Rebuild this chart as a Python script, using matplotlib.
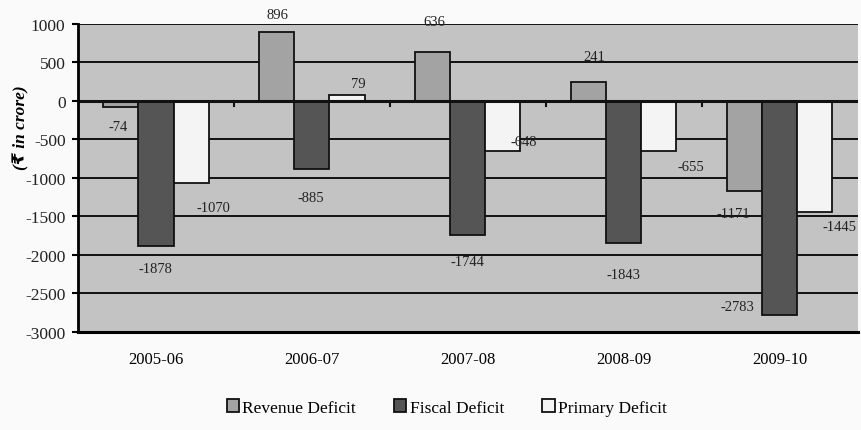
import numpy as np
import matplotlib
matplotlib.use('Agg')
import matplotlib.pyplot as plt

years = ['2005-06', '2006-07', '2007-08', '2008-09', '2009-10']
revenue = [-74, 896, 636, 241, -1171]
fiscal = [-1878, -885, -1744, -1843, -2783]
primary = [-1070, 79, -648, -655, -1445]

# label offsets (pixels) from the bar end, copying the odd Excel placement
rev_off = [(-3, -20), (1, 18), (2, 31), (6, 26), (-11, -22)]
fis_off = [(-1, -23), (-1, -28), (0, -26), (0, -32), (-42, 9)]
pri_off = [(22, -24), (11, 11), (21, 9), (32, -15), (25, -14)]

plt.rcParams['font.family'] = ['Liberation Serif', 'DejaVu Sans']
plt.rcParams['axes.unicode_minus'] = False

fig = plt.figure(figsize=(8.62, 4.31), dpi=100, facecolor='#fafafa')
ax = fig.add_axes([0.0905, 0.2274, 0.9045, 0.7146])
ax.set_facecolor('#c3c3c3')

x = np.arange(len(years))
w = 0.225
series = [(revenue, '#a3a3a3', 'Revenue Deficit', rev_off),
          (fiscal, '#555555', 'Fiscal Deficit', fis_off),
          (primary, '#f4f4f4', 'Primary Deficit', pri_off)]

for k in range(-6, 3):
    ax.axhline(k * 500, color='#111111', lw=1.4, zorder=1)

for i, (vals, col, name, offs) in enumerate(series):
    xs = x + (i - 1) * w
    ax.bar(xs, vals, width=w, color=col, edgecolor='#111111', lw=1.3,
           label=name, zorder=2)
    for xi, v, (dx, dy) in zip(xs, vals, offs):
        ax.annotate(str(v), (xi, v), xytext=(dx, dy), textcoords='offset pixels',
                    ha='center', va='center', fontsize=10.5, color='#222222', zorder=3)

ax.axhline(0, color='#111111', lw=2.2, zorder=2.5)
for b in np.arange(0.5, len(years) - 1, 1.0):
    ax.plot([b, b], [0, -60], color='#111111', lw=1.5, zorder=2.5)

ax.set_xlim(-0.5, len(years) - 0.5)
ax.set_ylim(-3000, 1000)
ax.set_yticks(np.arange(-3000, 1001, 500))
ax.set_xticks(x)
ax.set_xticklabels(years)
ax.tick_params(axis='x', length=0, pad=14, labelsize=12)
ax.tick_params(axis='y', length=4, width=1.5, labelsize=12.5, pad=5,
               labelcolor='#222222')
for s in ['top', 'right']:
    ax.spines[s].set_visible(False)
ax.spines['left'].set_linewidth(2)
ax.spines['bottom'].set_linewidth(2.2)

ax.set_ylabel('(\u20b9 in crore)', fontsize=12.5, fontweight='bold', style='italic')
ax.yaxis.set_label_coords(-0.062, 0.665)

ax.legend(loc='center', bbox_to_anchor=(0.473, -0.245), ncol=3, frameon=False,
          fontsize=12.5, handlelength=0.7, handleheight=0.7, handletextpad=0.2,
          columnspacing=2.2)

fig.savefig('out.png', dpi=100, facecolor=fig.get_facecolor())
